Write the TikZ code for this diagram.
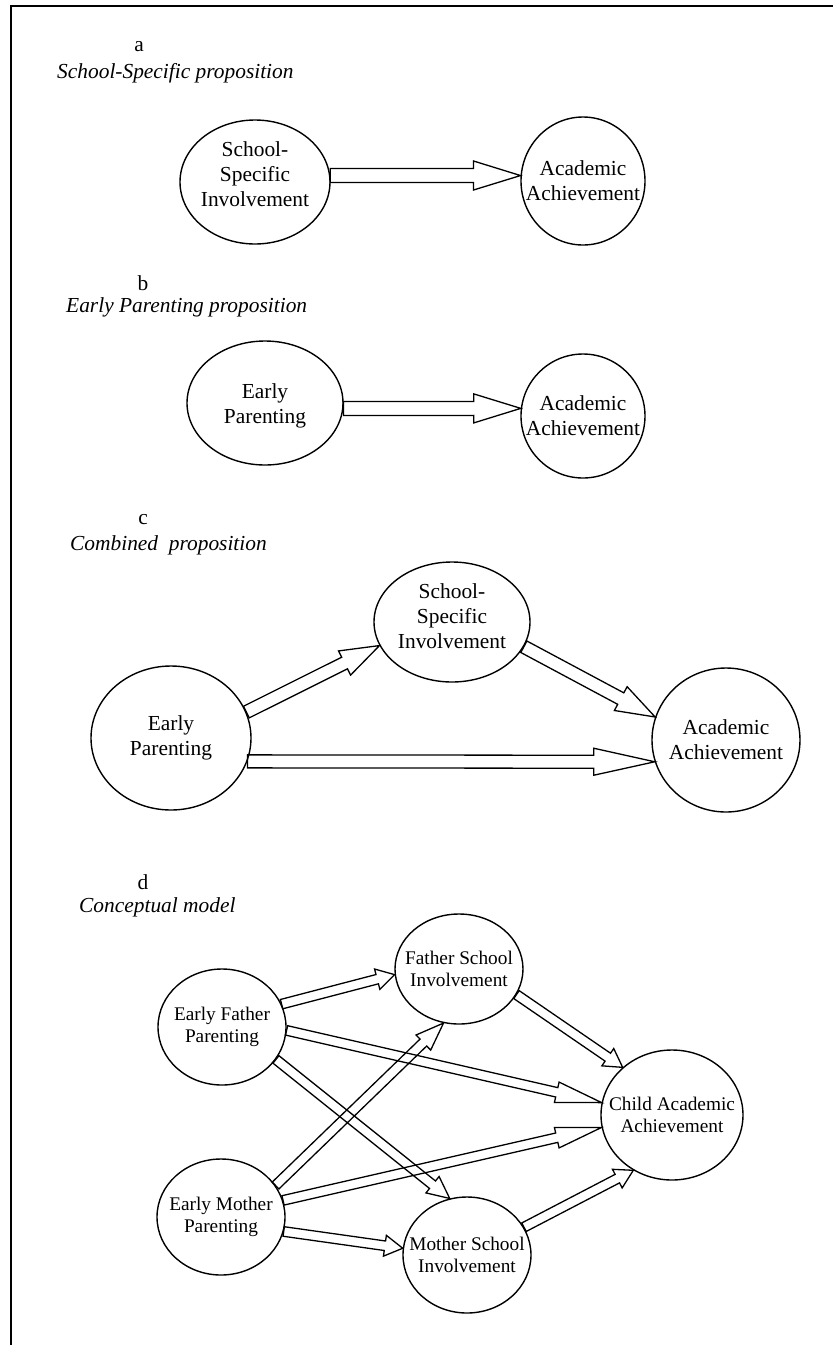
\documentclass[tikz,border=0pt]{standalone}
\usepackage{fontspec}
\setmainfont{Liberation Serif}
\usetikzlibrary{shapes.geometric,calc}
% #1 start, #2 end, #3 shaft half width, #4 head half width, #5 head length
\newcommand{\blockarr}[5]{%
  \path (#1) coordinate (bas) (#2) coordinate (bae);
  \path ($(bae)!#5!(bas)$) coordinate (baq);
  \draw[arr] ($(bas)!#3!90:(bae)$) -- ($(baq)!#3!90:(bae)$) -- ($(baq)!#4!90:(bae)$) -- (bae)
     -- ($(baq)!#4!-90:(bae)$) -- ($(baq)!#3!-90:(bae)$) -- ($(bas)!#3!-90:(bae)$) -- cycle;
}
\begin{document}
\begin{tikzpicture}[x=1pt,y=-1pt,
  ell/.style={draw, ellipse, line width=1.4pt, inner sep=0pt},
  arr/.style={line width=1.3pt, line join=miter, miter limit=10},
  big/.style={font=\fontsize{21.4}{25}\selectfont, align=center, inner sep=0pt},
  sm/.style={font=\fontsize{19.3}{22.5}\selectfont, align=center, inner sep=0pt},
  ttl/.style={font=\fontsize{21.4}{25}\selectfont\itshape, anchor=west, inner sep=0pt}]
\useasboundingbox (0,0) rectangle (833,1345);
\draw[line width=2pt] (833,6) -- (11,6) -- (11,1345);

% titles
\node[big] (la) at (139,47) {a};
\node[ttl] (ta) at (57,73) {School-Specific proposition};
\node[big] (lb) at (143,283) {b};
\node[ttl] (tb) at (66,307) {Early Parenting proposition};
\node[big] (lc) at (143,520) {c};
\node[ttl] (tc) at (70,545) {Combined\ \ proposition};
\node[big] (ld) at (143,882) {d};
\node[ttl] (td) at (79,907) {Conceptual model};

% a
\node[ell, minimum width=150pt, minimum height=124pt] (ssia) at (255,182) {};
\node[big] (ssiat) at ([yshift=8pt]ssia.center) {School-\\Specific\\Involvement};
\node[ell, minimum width=124pt, minimum height=128pt] (aaa) at (583,181) {};
\node[big] (aaat) at (aaa) {Academic\\Achievement};
\blockarr{ssia.5}{aaa.175}{7pt}{14.5pt}{47pt}

% b
\node[ell, minimum width=156pt, minimum height=124pt] (epb) at (265,403) {};
\node[big] (epbt) at ([yshift=-3pt]epb.center) {Early\\Parenting};
\node[ell, minimum width=124pt, minimum height=124pt] (aab) at (583,416) {};
\node[big] (aabt) at (aab) {Academic\\Achievement};
\blockarr{epb.356}{aab.173}{7pt}{14.5pt}{47pt}

% c
\node[ell, minimum width=160pt, minimum height=144pt] (epc) at (171,738) {};
\node[big] (epct) at (epc) {Early\\Parenting};
\node[ell, minimum width=156pt, minimum height=120pt] (ssic) at (452,622) {};
\node[big] (ssict) at ([yshift=6pt]ssic.center) {School-\\Specific\\Involvement};
\node[ell, minimum width=148pt, minimum height=144pt] (aac) at (726,740) {};
\node[big] (aact) at (aac) {Academic\\Achievement};
\blockarr{epc.19}{ssic.198}{6.5pt}{13.5pt}{39pt}
\blockarr{ssic.341}{aac.162}{6.5pt}{13.5pt}{39pt}
\blockarr{epc.343}{aac.197}{6.5pt}{13.5pt}{61pt}

% d
\node[ell, minimum width=128pt, minimum height=116pt] (efp) at (222,1027) {};
\node[sm] (efpt) at (efp) {Early Father\\Parenting};
\node[ell, minimum width=128pt, minimum height=110pt] (fsi) at (459,969) {};
\node[sm] (fsit) at (fsi) {Father School\\Involvement};
\node[ell, minimum width=128pt, minimum height=116pt] (emp) at (221,1217) {};
\node[sm] (empt) at (emp) {Early Mother\\Parenting};
\node[ell, minimum width=128pt, minimum height=116pt] (msi) at (467,1255) {};
\node[sm] (msit) at (msi) {Mother School\\Involvement};
\node[ell, minimum width=142pt, minimum height=130pt] (caa) at (672,1115) {};
\node[sm] (caat) at (caa) {Child Academic\\Achievement};

\blockarr{efp.21}{fsi.185}{4.8pt}{10.5pt}{18pt}
\blockarr{efp.357}{caa.170}{4.8pt}{10.5pt}{46pt}
\blockarr{efp.329}{msi.107}{4.8pt}{10.5pt}{22pt}
\blockarr{fsi.336}{caa.136}{4.8pt}{10.5pt}{18pt}
\blockarr{emp.30}{fsi.254}{4.8pt}{10.5pt}{28pt}
\blockarr{emp.15}{caa.190}{4.8pt}{10.5pt}{46pt}
\blockarr{emp.347}{msi.174}{4.8pt}{10.5pt}{18pt}
\blockarr{msi.26}{caa.235}{4.8pt}{10.5pt}{18pt}
\end{tikzpicture}
\end{document}
